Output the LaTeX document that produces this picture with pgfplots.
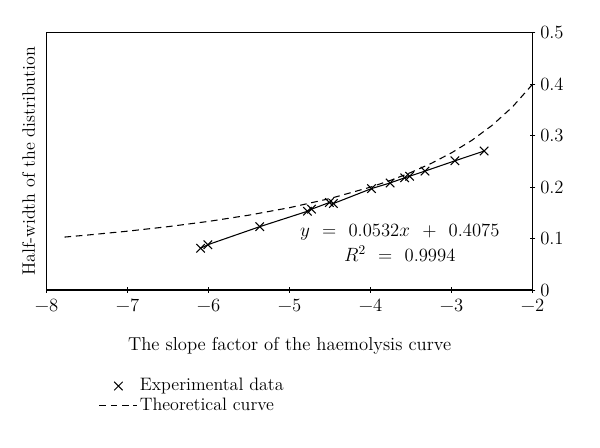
\documentclass[border=0pt]{standalone}
\usepackage{pgfplots}
\pgfplotsset{compat=1.18}
\begin{document}
\fontsize{13.5}{16}\selectfont
\begin{tikzpicture}
\path[use as bounding box] (0,0) rectangle (450pt,336pt);
\begin{axis}[
  at={(35pt,118.5pt)}, anchor=south west,
  scale only axis, width=364.5pt, height=193pt,
  xmin=-8, xmax=-2, ymin=0, ymax=0.5,
  xtick={-8,-7,-6,-5,-4,-3,-2},
  xticklabels={−8,−7,−6,−5,−4,−3,−2},
  ytick={0,0.1,0.2,0.3,0.4,0.5},
  yticklabels={0,0.1,0.2,0.3,0.4,0.5},
  ytick pos=right, xtick pos=bottom,
  tick align=center, major tick length=4pt,
  tick style={black, line width=0.7pt},
  axis line style={line width=0.8pt},
  ticklabel style={font=\fontsize{14}{16}\selectfont},
  yticklabel style={xshift=-1pt},
  xlabel={The slope factor of the haemolysis curve},
  ylabel={Half-width of the distribution},
  label style={font=\fontsize{14}{16}\selectfont},
  xlabel style={yshift=-10pt},
  every axis y label/.style={at={(rel axis cs:0,0.5)}, rotate=90, anchor=south, yshift=4pt},
  legend style={draw=none, at={(0.107,-0.335)}, anchor=north west, font=\fontsize{13.5}{16}\selectfont, row sep=0pt, legend cell align=left, inner sep=0pt, nodes={inner sep=1.5pt}},
]
\addlegendimage{legend image code/.code={\draw[black, line width=0.75pt, mark=x, mark size=4.5pt] plot coordinates {(0.5cm,0cm)};}}
\addlegendentry{Experimental data}
\addlegendimage{legend image code/.code={\draw[black, line width=0.75pt, dash pattern=on 5pt off 3.5pt] (0cm,0cm) -- (1cm,0cm);}}
\addlegendentry{Theoretical curve}
\addplot[forget plot, black, line width=0.8pt, mark=x, mark size=4.5pt, mark options={solid, line width=0.8pt}] coordinates {
(-6.10,0.081) (-6.01,0.088) (-5.37,0.123) (-4.78,0.153) (-4.73,0.157)
(-4.51,0.170) (-4.46,0.168) (-3.99,0.197) (-3.76,0.208) (-3.58,0.218)
(-3.52,0.221) (-3.33,0.231) (-2.96,0.251) (-2.60,0.270)
};
\addplot[forget plot, black, line width=0.8pt, dash pattern=on 5pt off 3.5pt] coordinates {
(-7.78,0.1028) (-7.5,0.1067) (-7,0.1143) (-6.5,0.1231) (-6,0.1333) (-5.5,0.1455)
(-5,0.16) (-4.5,0.1778) (-4,0.2) (-3.75,0.2133) (-3.5,0.2286) (-3.25,0.2462)
(-3,0.2667) (-2.75,0.2909) (-2.5,0.32) (-2.25,0.3556) (-2,0.4)
};
\node[align=center, font=\fontsize{14}{16}\selectfont, inner sep=0pt] at (axis cs:-3.64,0.091)
  {$y$\ \ =\ \ 0.0532$x$\ \ +\ \ 0.4075\\[3pt]$R^2$\ \ =\ \ 0.9994};
\end{axis}
\end{tikzpicture}
\end{document}
